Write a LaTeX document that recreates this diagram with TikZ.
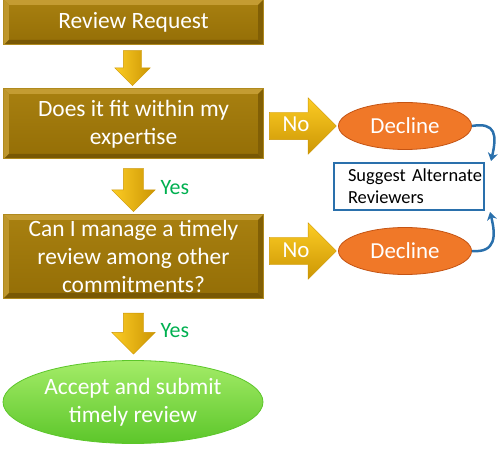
\documentclass[tikz,border=0pt]{standalone}
\usepackage{fontspec}
\setmainfont{Carlito}
\usetikzlibrary{shapes.geometric,shapes.arrows,arrows.meta}
\definecolor{boxtop}{RGB}{168,128,16}
\definecolor{boxbot}{RGB}{148,110,6}
\definecolor{boxedge}{RGB}{176,138,30}
\definecolor{bevlight}{RGB}{196,156,50}
\definecolor{bevdark}{RGB}{120,88,4}
\definecolor{arrlight}{RGB}{252,204,36}
\definecolor{arrdark}{RGB}{204,150,4}
\definecolor{declfill}{RGB}{240,120,40}
\definecolor{decledge}{RGB}{196,84,20}
\definecolor{acctop}{RGB}{164,236,104}
\definecolor{accbot}{RGB}{92,198,42}
\definecolor{yesgreen}{RGB}{0,176,80}
\definecolor{sugblue}{RGB}{42,112,172}

\begin{document}
\begin{tikzpicture}[x=1bp,y=-1bp,
    goldbox/.style={rectangle, top color=boxtop, bottom color=boxbot, draw=boxedge,
      line width=1bp, minimum width=259bp, text=white, align=center,
      font=\fontsize{23.5}{28}\selectfont,
      path picture={
        \coordinate (nw) at (path picture bounding box.north west);
        \coordinate (ne) at (path picture bounding box.north east);
        \coordinate (sw) at (path picture bounding box.south west);
        \coordinate (se) at (path picture bounding box.south east);
        \fill[bevlight] (nw) -- (ne) -- ([shift={(-5bp,-5bp)}]ne) -- ([shift={(5bp,-5bp)}]nw) -- cycle;
        \fill[bevlight!80!boxtop] (nw) -- (sw) -- ([shift={(5bp,5bp)}]sw) -- ([shift={(5bp,-5bp)}]nw) -- cycle;
        \fill[bevdark] (sw) -- (se) -- ([shift={(-5bp,5bp)}]se) -- ([shift={(5bp,5bp)}]sw) -- cycle;
        \fill[bevdark!70!boxbot] (ne) -- (se) -- ([shift={(-5bp,5bp)}]se) -- ([shift={(-5bp,-5bp)}]ne) -- cycle;
      }},
    downarr/.style={single arrow, rotate=-90, left color=arrlight, right color=arrdark,
      draw=arrdark, line width=.4bp, inner sep=9bp},
    noarr/.style={single arrow, top color=arrlight, bottom color=arrdark, draw=arrdark,
      line width=.4bp, inner xsep=2bp, inner ysep=3.5bp, text height=16bp, text depth=4bp,
      single arrow head extend=14.5bp, minimum height=67bp, text=white,
      font=\fontsize{23}{27}\selectfont},
    declell/.style={ellipse, fill=declfill, draw=decledge, line width=.8bp,
      minimum width=133bp, minimum height=47bp, text=white,
      font=\fontsize{23}{27}\selectfont},
    yeslbl/.style={text=yesgreen, font=\fontsize{22}{26}\selectfont},
    bluearr/.style={draw=sugblue, line width=2.5bp, -{Stealth[length=8bp,width=10bp]}}]
    \useasboundingbox (0,0) rectangle (500,452);

    % main column
    \node[goldbox, minimum height=45bp] (req) at (133.5,22.5) {Review Request};
    \node[goldbox, minimum height=70bp] (fit) at (133.5,124) {Does it fit within my\\expertise};
    \node[goldbox, minimum height=83bp] (time) at (133.5,256.5)
      {Can I manage a timely\\review among other\\commitments?};
    \node[ellipse, top color=acctop, bottom color=accbot, draw=accbot, line width=.8bp,
      inner sep=0pt, minimum width=260bp, minimum height=83bp, text=white, align=center,
      font=\fontsize{23.5}{28}\selectfont] (accept) at (133,402)
      {Accept and submit\\timely review};

    % down arrows
    \node[downarr, single arrow head extend=8.5bp, minimum height=35bp] (d1) at (132.5,63.5) {};
    \node[downarr, inner sep=10bp, single arrow head extend=11.5bp, minimum height=43bp] (d2) at (133.5,185) {};
    \node[downarr, inner sep=10bp, single arrow head extend=11.5bp, minimum height=41bp] (d3) at (133.5,328.5) {};
    \node[yeslbl, anchor=west] (y1) at (157,188) {Yes};
    \node[yeslbl, anchor=west] (y2) at (157,331) {Yes};

    % declines
    \foreach \i/\y in {1/126,2/251}
    {
      \node[noarr] (no\i) at (296,\y) {No};
      \node[declell] (dec\i) at (405,\y) {Decline};
    }

    \node[draw=sugblue, line width=1.2bp, fill=white, minimum width=150bp, minimum height=47bp,
      text width=150bp, align=left, inner xsep=0bp,
      font=\fontsize{18.5}{22}\selectfont] (sug) at (409,186.5)
      {\hspace*{14bp}Suggest Alternate\\\hspace*{14bp}Reviewers};
    \coordinate (sugtop) at (491,161);
    \coordinate (sugbot) at (490,212);

    \draw[bluearr] (dec1.east) .. controls +(24,-4) and +(6,-26) .. (sugtop);
    \draw[bluearr] (dec2.east) .. controls +(24,2) and +(6,24) .. (sugbot);
\end{tikzpicture}
\end{document}
